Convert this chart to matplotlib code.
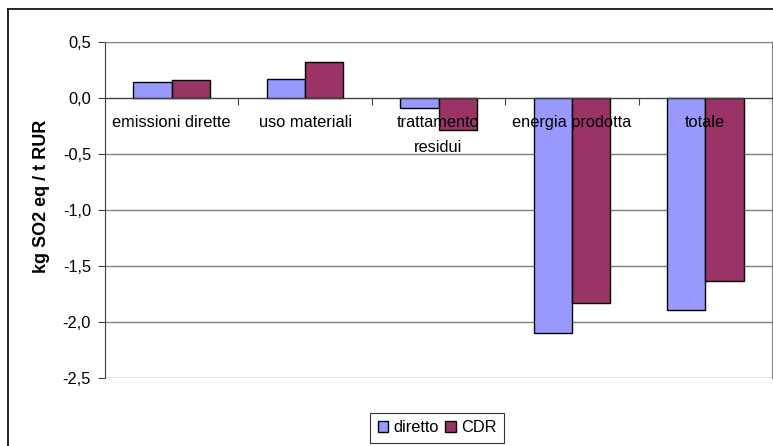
import matplotlib
matplotlib.use("Agg")
import matplotlib.pyplot as plt
from matplotlib.lines import Line2D
from matplotlib.ticker import FixedLocator, FuncFormatter
import numpy as np

plt.rcParams['font.family'] = ['Liberation Sans', 'DejaVu Sans']

categorie = ["emissioni dirette", "uso materiali", "trattamento\nresidui",
             "energia prodotta", "totale"]
diretto = [0.14, 0.17, -0.09, -2.10, -1.89]
cdr = [0.16, 0.32, -0.29, -1.83, -1.63]
serie = ["diretto", "CDR"]
colori = ["#9999FF", "#993366"]

fs = 11.8

fig = plt.figure(figsize=(7.73, 4.46), dpi=100)
ax = fig.add_axes([105 / 773, 1 - 378 / 446, 667 / 773, 336 / 446])

x = np.arange(len(categorie))
w = 0.287
b1 = ax.bar(x - w / 2, diretto, w, color=colori[0], edgecolor="black",
            linewidth=1, zorder=3, label=serie[0])
b2 = ax.bar(x + w / 2, cdr, w, color=colori[1], edgecolor="black",
            linewidth=1, zorder=3, label=serie[1])

ax.set_xlim(-0.5, len(categorie) - 0.5)
ax.set_ylim(-2.5, 0.5)
ax.yaxis.set_major_locator(FixedLocator(np.arange(-2.5, 0.51, 0.5)))


def virgola(v, pos):
    s = f"{v:.1f}"
    if s == "-0.0":
        s = "0.0"
    return s.replace(".", ",")


ax.yaxis.set_major_formatter(FuncFormatter(virgola))
ax.grid(axis="y", color="#808080", linewidth=1, zorder=0)
ax.set_axisbelow(True)

# asse orizzontale sullo zero
ax.spines["bottom"].set_position(("data", 0))
ax.spines["bottom"].set_color("#404040")
ax.spines["bottom"].set_zorder(4)
ax.spines["left"].set_color("#404040")
ax.spines["top"].set_color("#808080")
ax.spines["right"].set_color("#808080")
ax.set_xticks(np.arange(0.5, len(categorie), 1.0))
ax.set_xticklabels([])
ax.tick_params(axis="x", direction="out", length=5, color="#404040")
ax.tick_params(axis="y", direction="out", length=5, color="#404040",
               labelsize=fs, pad=5)

for i, c in enumerate(categorie):
    ax.annotate(c, (i, 0), xytext=(0, -12), textcoords="offset points",
                ha="center", va="top", fontsize=fs, zorder=6,
                linespacing=1.85)

ax.set_ylabel("kg SO2 eq / t RUR", fontsize=13, fontweight="bold")
ax.yaxis.set_label_coords(-0.083, 0.542)

leg = fig.legend(handles=[b1, b2], labels=serie, loc="center",
                 bbox_to_anchor=(437 / 773, 1 - 428 / 446), ncol=2,
                 fontsize=fs, frameon=True, fancybox=False, handlelength=0.65,
                 handleheight=0.65, handletextpad=0.3, columnspacing=0.4,
                 borderpad=0.45, borderaxespad=0)
leg.get_frame().set_edgecolor("black")
leg.get_frame().set_linewidth(0.8)

# cornice esterna del grafico
fig.add_artist(Line2D([8 / 773, 8 / 773], [0, 1 - 9 / 446], color="black",
                      linewidth=1.2, transform=fig.transFigure))
fig.add_artist(Line2D([8 / 773, 1], [1 - 9 / 446, 1 - 9 / 446], color="black",
                      linewidth=1.2, transform=fig.transFigure))

fig.savefig("out.png", dpi=100)
